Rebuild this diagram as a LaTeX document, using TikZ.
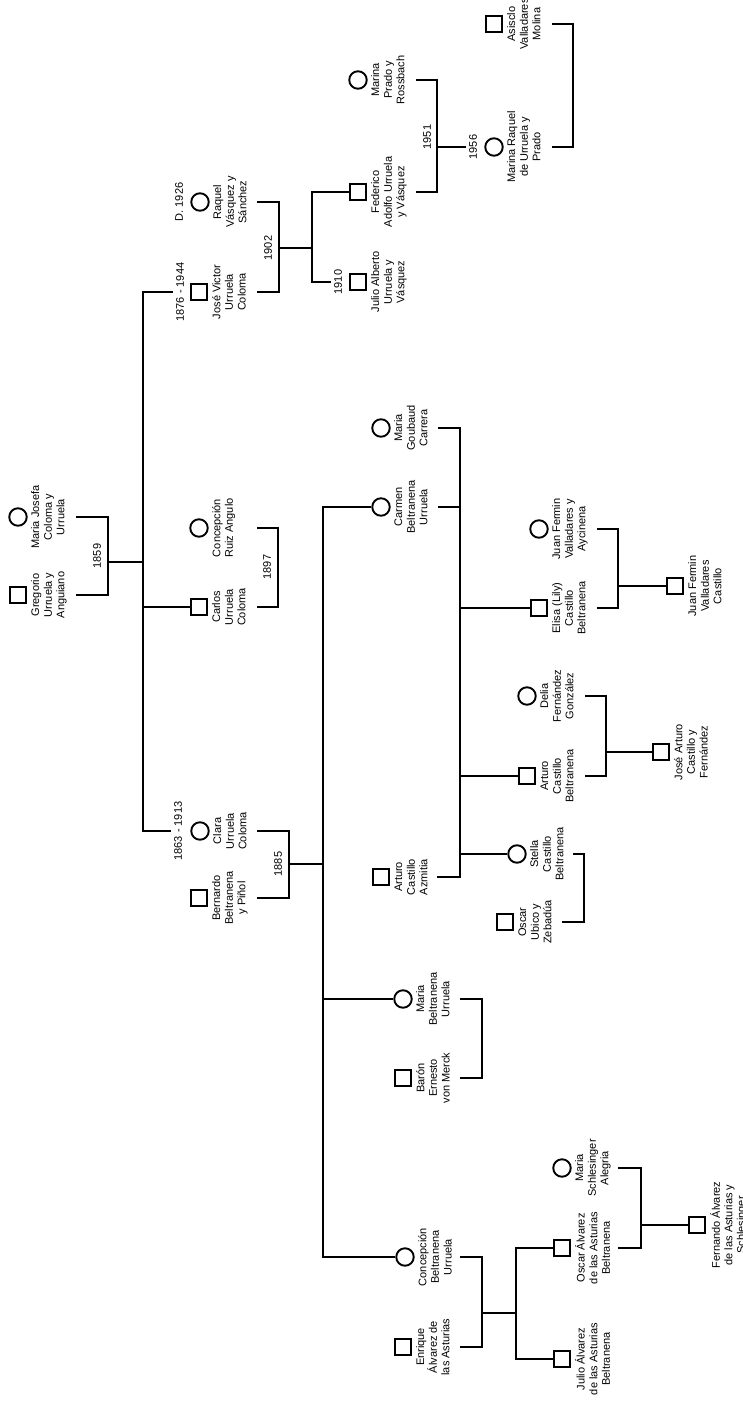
\documentclass[tikz,border=0pt]{standalone}
\usepackage{fontspec}
\setmainfont{Liberation Sans}
\newcommand\lblfont{\fontsize{11}{12.6}\selectfont}
\newcommand\stt{\rule{0pt}{8pt}}
\begin{document}
\begin{tikzpicture}[x=1pt,y=-1pt,
  ln/.style={line width=1.9pt},
  sq/.style={draw, rectangle, line width=1.9pt, minimum size=16.5pt, inner sep=0pt},
  ci/.style={draw, circle, line width=1.9pt, minimum size=17.5pt, inner sep=0pt},
  lbl/.style={rotate=90, anchor=north, inner sep=0pt, align=center, font=\lblfont},
  dt/.style={rotate=90, inner sep=0pt, outer sep=3.5pt, font=\lblfont},
  yr/.style={rotate=90, inner sep=0pt, font=\lblfont}]
\useasboundingbox (0,0) rectangle (743,1402);

% ---------- generation 0
\node[sq] (greg) at (18,595) {};
\node[lbl] (gregL) at ([xshift=13pt]greg.center) {\stt Gregorio\\Urruela y\\Anguiano};
\node[ci] (mjos) at (18,517) {};
\node[lbl] (mjosL) at ([xshift=13pt]mjos.center) {\stt Maria Josefa\\Coloma y\\Urruela};
\draw[ln] (76,595) -- (108,595) -- (108,517) -- (76,517);
\coordinate (m1859) at (108,562);
\coordinate (t1859) at (143,562);
\draw[ln] (m1859) -- (t1859);
\node[yr] (y1859) at (97,556) {1859};

% ---------- generation 1
\node[sq] (jv) at (199,292) {};
\node[lbl] (jvL) at ([xshift=13pt]jv.center) {\stt José Victor\\Urruela\\Coloma};
\node[dt] (jvD) at (180,292) {1876 - 1944};

\node[sq] (carlos) at (199,607) {};
\node[lbl] (carlosL) at ([xshift=13pt]carlos.center) {\stt Carlos\\Urruela\\Coloma};

\node[ci] (clara) at (200,831) {};
\node[lbl] (claraL) at ([xshift=13pt]clara.center) {\stt Clara\\Urruela\\Coloma};
\node[dt] (claraD) at (178,831) {1863 - 1913};

\coordinate (tTop) at (143,292);
\coordinate (tBot) at (143,831);
\coordinate (tCar) at (143,607);
\draw[ln] (jvD.north) -- (tTop) -- (tBot) -- (claraD.north);
\draw[ln] (tCar) -- (carlos);

% Raquel
\node[ci] (raq) at (200,202) {};
\node[lbl] (raqL) at ([xshift=13pt]raq.center) {\stt Raquel\\Vásquez y\\Sánchez};
\node[dt] (raqD) at (179,202) {D. 1926};
\draw[ln] (257,292) -- (279,292) -- (279,202) -- (257,202);
\node[yr] (y1902) at (268,248) {1902};
\coordinate (m1902) at (279,248);
\coordinate (k1902) at (312,248);
\draw[ln] (m1902) -- (k1902);

% children of José Victor
\node[sq] (fed) at (358,192) {};
\node[lbl] (fedL) at ([xshift=13pt]fed.center) {\stt Federico\\Adolfo Urruela\\y Vásquez};
\node[sq] (jul) at (358,282) {};
\node[lbl] (julL) at ([xshift=13pt]jul.center) {\stt Julio Alberto\\Urruela y\\Vásquez};
\node[dt] (julD) at (338,282) {1910};
\coordinate (kTop) at (312,192);
\coordinate (kBot) at (312,282);
\draw[ln] (fed) -- (kTop) -- (kBot) -- (julD.north);

% Marina Prado
\node[ci] (marp) at (358,80) {};
\node[lbl] (marpL) at ([xshift=13pt]marp.center) {\stt Marina\\Prado y\\Rossbach};
\draw[ln] (416,192) -- (437,192) -- (437,80) -- (416,80);
\node[yr] (y1951) at (427,137) {1951};
\coordinate (m1951) at (437,147);

\node[ci] (marr) at (494,147) {};
\node[lbl] (marrL) at ([xshift=13pt]marr.center) {\stt Marina Raquel\\de Urruela y\\Prado};
\node[dt] (marrD) at (473,147) {1956};
\draw[ln] (m1951) -- (marrD.north);

\node[sq] (asis) at (494,24) {};
\node[lbl] (asisL) at ([xshift=13pt]asis.center) {\stt Asisclo\\Valladares\\Molina};
\draw[ln] (552,24) -- (573,24) -- (573,147) -- (552,147);

% Concepción Ruiz Angulo
\node[ci] (conr) at (199,528) {};
\node[lbl] (conrL) at ([xshift=13pt]conr.center) {\stt Concepción\\Ruiz Angulo};
\draw[ln] (257,528) -- (278,528) -- (278,607) -- (257,607);
\node[yr] (y1897) at (267,567) {1897};

% Bernardo
\node[sq] (bern) at (199,898) {};
\node[lbl] (bernL) at ([xshift=13pt]bern.center) {\stt Bernardo\\Beltranena\\y Piñol};
\draw[ln] (257,831) -- (289,831) -- (289,898) -- (257,898);
\node[yr] (y1885) at (278,864) {1885};
\coordinate (m1885) at (289,864);
\coordinate (k1885) at (323,864);
\draw[ln] (m1885) -- (k1885);

% ---------- generation 2 (Beltranena)
\node[ci] (carmen) at (381,507) {};
\node[lbl] (carmenL) at ([xshift=13pt]carmen.center) {\stt Carmen\\Beltranena\\Urruela};
\node[ci] (mbu) at (403,999) {};
\node[lbl] (mbuL) at ([xshift=13pt]mbu.center) {\stt Maria\\Beltranena\\Urruela};
\node[ci] (cbu) at (405,1257) {};
\node[lbl] (cbuL) at ([xshift=13pt]cbu.center) {\stt Concepción\\Beltranena\\Urruela};
\coordinate (bTop) at (323,507);
\coordinate (bMid) at (323,999);
\coordinate (bBot) at (323,1257);
\draw[ln] (carmen) -- (bTop) -- (bBot) -- (cbu);
\draw[ln] (bMid) -- (mbu);

% Carmen's family
\node[ci] (goub) at (381,428) {};
\node[lbl] (goubL) at ([xshift=13pt]goub.center) {\stt Maria\\Goubaud\\Carrera};
\node[sq] (acaz) at (381,877) {};
\node[lbl] (acazL) at ([xshift=13pt]acaz.center) {\stt Arturo\\Castillo\\Azmitia};
\draw[ln] (438,428) -- (460,428) -- (460,877) -- (437,877);
\draw[ln] (438,507) -- (460,507);

\node[sq] (elisa) at (539,608) {};
\node[lbl] (elisaL) at ([xshift=13pt]elisa.center) {\stt Elisa (Lily)\\Castillo\\Beltranena};
\node[sq] (artb) at (527,776) {};
\node[lbl] (artbL) at ([xshift=13pt]artb.center) {\stt Arturo\\Castillo\\Beltranena};
\node[ci] (stella) at (517,854) {};
\node[lbl] (stellaL) at ([xshift=13pt]stella.center) {\stt Stella\\Castillo\\Beltranena};
\coordinate (cE) at (460,608);
\coordinate (cA) at (460,776);
\coordinate (cS) at (460,854);
\draw[ln] (cE) -- (elisa);
\draw[ln] (cA) -- (artb);
\draw[ln] (cS) -- (stella);

% Elisa's family
\node[ci] (jfva) at (539,529) {};
\node[lbl] (jfvaL) at ([xshift=13pt]jfva.center) {\stt Juan Fermin\\Valladares y\\Aycinena};
\draw[ln] (597,529) -- (618,529) -- (618,608) -- (597,608);
\coordinate (mJF) at (618,586);
\node[sq] (jfvc) at (675,586) {};
\node[lbl] (jfvcL) at ([xshift=13pt]jfvc.center) {\stt Juan Fermin\\Valladares\\Castillo};
\draw[ln] (mJF) -- (jfvc);

% Arturo's family
\node[ci] (delia) at (527,696) {};
\node[lbl] (deliaL) at ([xshift=13pt]delia.center) {\stt Delia\\Fernández\\González};
\draw[ln] (585,696) -- (606,696) -- (606,776) -- (585,776);
\coordinate (mJA) at (606,752);
\node[sq] (jac) at (661,752) {};
\node[lbl] (jacL) at ([xshift=13pt]jac.center) {\stt José Arturo\\Castillo y\\Fernández};
\draw[ln] (mJA) -- (jac);

% Stella's family
\node[sq] (oscu) at (505,922) {};
\node[lbl] (oscuL) at ([xshift=13pt]oscu.center) {\stt Oscar\\Ubico y\\Zebadúa};
\draw[ln] (573,854) -- (584,854) -- (584,922) -- (562,922);

% Maria Beltranena's family
\node[sq] (baron) at (403,1078) {};
\node[lbl] (baronL) at ([xshift=13pt]baron.center) {\stt Barón\\Ernesto\\von Merck};
\draw[ln] (460,999) -- (482,999) -- (482,1078) -- (460,1078);

% Concepción Beltranena's family
\node[sq] (enr) at (403,1347) {};
\node[lbl] (enrL) at ([xshift=13pt]enr.center) {\stt Enrique\\Álvarez de\\las Asturias};
\draw[ln] (460,1257) -- (482,1257) -- (482,1347) -- (460,1347);
\coordinate (mEA) at (482,1313);
\coordinate (kEA) at (516,1313);
\draw[ln] (mEA) -- (kEA);

\node[sq] (osc) at (562,1248) {};
\node[lbl] (oscL) at ([xshift=13pt]osc.center) {\stt Oscar Álvarez\\de las Asturias\\Beltranena};
\node[sq] (jula) at (562,1359) {};
\node[lbl] (julaL) at ([xshift=13pt]jula.center) {\stt Julio Álvarez\\de las Asturias\\Beltranena};
\coordinate (kOT) at (516,1248);
\coordinate (kOB) at (516,1359);
\draw[ln] (osc) -- (kOT) -- (kOB) -- (jula);

\node[ci] (msa) at (562,1168) {};
\node[lbl] (msaL) at ([xshift=13pt]msa.center) {\stt Maria\\Schlesinger\\Alegria};
\draw[ln] (618,1168) -- (641,1168) -- (641,1248) -- (618,1248);
\coordinate (mOS) at (641,1225);
\node[sq] (fer) at (697,1225) {};
\node[lbl] (ferL) at ([xshift=13pt]fer.center) {\stt Fernando Álvarez\\de las Asturias y\\Schlesinger};
\draw[ln] (mOS) -- (fer);
\end{tikzpicture}
\end{document}
